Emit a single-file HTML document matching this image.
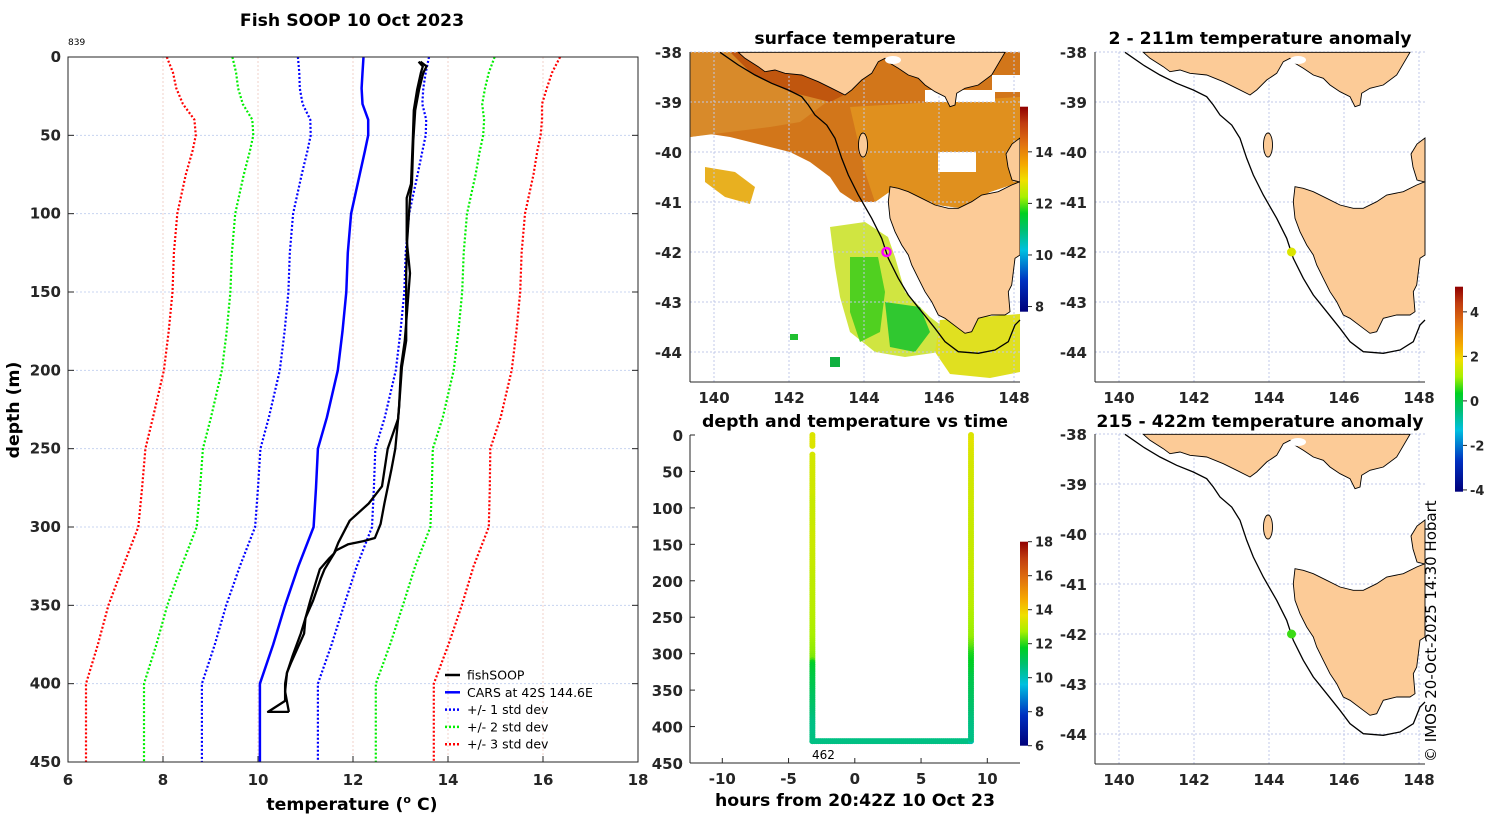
<!DOCTYPE html>
<html><head><meta charset="utf-8"><style>
html,body{margin:0;padding:0;background:#fff;}
svg{display:block;font-family:"DejaVu Sans","Liberation Sans",sans-serif;}
.tk{font-size:15px;font-weight:bold;fill:#262626;}
.ttl{font-size:17.3px;font-weight:bold;fill:#000;}
</style></head><body>
<svg id="fig" width="1500" height="820" viewBox="0 0 1500 820" xmlns="http://www.w3.org/2000/svg">
<text x="352" y="26" text-anchor="middle" class="ttl">Fish SOOP 10 Oct 2023</text>
<text x="68" y="45" font-size="9" fill="#000">839</text>
<text x="855" y="44" text-anchor="middle" class="ttl">surface temperature</text>
<text x="1260" y="44" text-anchor="middle" class="ttl">2 - 211m temperature anomaly</text>
<text x="855" y="427" text-anchor="middle" class="ttl">depth and temperature vs time</text>
<text x="1260" y="427" text-anchor="middle" class="ttl">215 - 422m temperature anomaly</text>
<text transform="translate(1436,762) rotate(-90)" font-size="15" fill="#000">© IMOS 20-Oct-2025 14:30 Hobart</text>
<defs>
<linearGradient id="cm" x1="0" y1="1" x2="0" y2="0">
<stop offset="0" stop-color="#00007a"/><stop offset="0.15" stop-color="#0030c0"/><stop offset="0.3" stop-color="#00c0e0"/><stop offset="0.4" stop-color="#00c070"/><stop offset="0.48" stop-color="#00d020"/><stop offset="0.56" stop-color="#a8f000"/><stop offset="0.64" stop-color="#f0e000"/><stop offset="0.72" stop-color="#f5a800"/><stop offset="0.82" stop-color="#e07010"/><stop offset="0.92" stop-color="#c03c10"/><stop offset="1" stop-color="#900000"/>
</linearGradient>
</defs>
<g id="profile"></g>
<g id="maps"></g>
<g id="timep"></g>
</svg>
<script>
// ---------- profile data ----------
const carsDepth=[0,10,20,30,40,50,60,75,100,125,150,175,200,230,250,275,300,325,350,375,400,425,450];
const carsMean=[12.22,12.2,12.18,12.2,12.32,12.32,12.25,12.14,11.96,11.89,11.86,11.78,11.68,11.45,11.26,11.22,11.17,10.85,10.57,10.32,10.04,10.04,10.04];
const carsStd=[1.38,1.33,1.3,1.26,1.22,1.21,1.21,1.22,1.22,1.22,1.22,1.22,1.22,1.22,1.21,1.22,1.23,1.23,1.24,1.23,1.22,1.22,1.22];
const downDepth=[3,6,10,21,34,53,81,90,117,138,181,198,223,231,250,263,285,298,307,309,311,315,327,333,347,358,368,387,393,405,418];
const downTemp=[13.38,13.47,13.43,13.35,13.28,13.26,13.22,13.13,13.13,13.2,13.09,13.01,12.97,12.95,12.89,12.81,12.66,12.58,12.46,12.22,11.9,11.64,11.4,11.32,11.16,11.0,10.97,10.69,10.61,10.57,10.65];
const upDepth=[418,418,411,400,393,382,368,358,347,333,327,320,317,310,296,285,274,250,231,223,198,181,138,117,90,81,53,34,21,10,6,3];
const upTemp=[10.65,10.21,10.57,10.57,10.61,10.73,10.9,11.0,11.1,11.24,11.3,11.5,11.6,11.69,11.93,12.33,12.61,12.73,12.95,12.97,13.03,13.12,13.12,13.14,13.2,13.24,13.27,13.31,13.39,13.48,13.55,13.42];
const xTicks=[6,8,10,12,14,16,18];
const yTicks=[0,50,100,150,200,250,300,350,400,450];
// ---------- time panel data ----------
const hourDown=-3.2, hourUp=8.77, bottomDepth=420, bottomTemp=10.6;
const timeTicks=[-10,-5,0,5,10];
const timeDepthTicks=[0,50,100,150,200,250,300,350,400,450];
const tempBarTicks=[6,8,10,12,14,16,18];
// ---------- map data ----------
const castLon=144.6, castLat=-42.0;
const anomTop=1.6, anomBottom=0.6;
const lonTicks=[140,142,144,146,148];
const latTicks=[-38,-39,-40,-41,-42,-43,-44];
const sstBarTicks=[8,10,12,14];
const anomBarTicks=[4,2,0,-2,-4];

const NS="http://www.w3.org/2000/svg";
function mk(p,tag,at){const e=document.createElementNS(NS,tag);for(const k in at)e.setAttribute(k,at[k]);p.appendChild(e);return e;}
function cmap(t){
 const s=[[0,0,0,122],[0.15,0,48,192],[0.3,0,192,224],[0.4,0,192,112],[0.48,0,208,32],[0.56,168,240,0],[0.64,240,224,0],[0.72,245,168,0],[0.82,224,112,16],[0.92,192,60,16],[1,144,0,0]];
 if(!isFinite(t))t=0.5;
 t=Math.max(0,Math.min(1,t));
 for(let i=1;i<s.length;i++){if(t<=s[i][0]){const a=s[i-1],b=s[i],f=(t-a[0])/(b[0]-a[0]);return `rgb(${Math.round(a[1]+f*(b[1]-a[1]))},${Math.round(a[2]+f*(b[2]-a[2]))},${Math.round(a[3]+f*(b[3]-a[3]))})`;}}
 return "rgb(144,0,0)";
}
function interp(ds,ts,d){
 // ds may be ascending or descending
 let pairs=ds.map((x,i)=>[x,ts[i]]).sort((a,b)=>a[0]-b[0]);
 if(d<=pairs[0][0])return pairs[0][1];
 for(let i=1;i<pairs.length;i++){if(d<=pairs[i][0]){const a=pairs[i-1],b=pairs[i];if(b[0]===a[0])return b[1];return a[1]+(b[1]-a[1])*(d-a[0])/(b[0]-a[0]);}}
 return pairs[pairs.length-1][1];
}

// ================= PROFILE =================
const P=document.getElementById('profile');
const px=t=>68+(t-6)*570/12, py=d=>57+d*705/450;
const frame=mk(P,'rect',{x:68,y:57,width:570,height:705,fill:'#fff',stroke:'none'});


xTicks.forEach(t=>{
 if(t>6&&t<18){const g=mk(P,'line',{x1:px(t),x2:px(t),y1:57,y2:762,stroke:'#f0d0c8','stroke-width':1,'stroke-dasharray':'2,2'});
 }
 const l=mk(P,'text',{x:px(t),y:785,'text-anchor':'middle',class:'tk'});l.textContent=t;
 
 
 mk(P,'line',{x1:px(t),x2:px(t),y1:762,y2:756,stroke:'#262626'});
});
yTicks.forEach(d=>{
 if(d>0&&d<450){const g=mk(P,'line',{x1:68,x2:638,y1:py(d),y2:py(d),stroke:'#c8d4f0','stroke-width':1,'stroke-dasharray':'2,2'});
 }
 const l=mk(P,'text',{x:61,y:py(d)+5,'text-anchor':'end',class:'tk'});l.textContent=d;
 
 
 mk(P,'line',{x1:68,x2:74,y1:py(d),y2:py(d),stroke:'#262626'});
 mk(P,'line',{x1:638,x2:632,y1:py(d),y2:py(d),stroke:'#262626'});
});
function poly(ds,ts,color,w,dash,name){
 const pts=ds.map((d,i)=>px(ts[i]).toFixed(1)+','+py(d).toFixed(1)).join(' ');
 const e=mk(P,'polyline',{points:pts,fill:'none',stroke:color,'stroke-width':w,'stroke-linejoin':'round'});
 if(dash)e.setAttribute('stroke-dasharray',dash);
 
 
}
[[3,'#ff0000','red'],[2,'#00ee00','green'],[1,'#0000ff','blue']].forEach(([k,c,n])=>{
 poly(carsDepth,carsMean.map((m,i)=>m-k*carsStd[i]),c,2.2,'2,2','cars-minus-'+k+'-std');
 poly(carsDepth,carsMean.map((m,i)=>m+k*carsStd[i]),c,2.2,'2,2','cars-plus-'+k+'-std');
});
poly(carsDepth,carsMean,'#0000ff',2.5,null,'cars-mean-line');
poly(downDepth,downTemp,'#000',2.3,null,'fishsoop-down-cast');
poly(upDepth,upTemp,'#000',2.3,null,'fishsoop-up-cast');
const box=mk(P,'rect',{x:68,y:57,width:570,height:705,fill:'none',stroke:'#262626','stroke-width':1});


const xl=mk(P,'text',{x:352,y:810,'text-anchor':'middle',class:'ttl'});
xl.innerHTML='temperature (<tspan font-size="11" dy="-7">o</tspan><tspan dy="7"> C)</tspan>';


const yl=mk(P,'text',{transform:'translate(19,410) rotate(-90)','text-anchor':'middle',class:'ttl'});yl.textContent='depth (m)';


// legend
const leg=[['fishSOOP','#000',null],['CARS at 42S 144.6E','#0000ff',null],['+/- 1 std dev','#0000ff','2,2'],['+/- 2 std dev','#00ee00','2,2'],['+/- 3 std dev','#ff0000','2,2']];
leg.forEach((L,i)=>{
 const y=675+i*17.3;
 const g=mk(P,'g',{});
 
 
 const ln=mk(g,'line',{x1:445,x2:460,y1:y,y2:y,stroke:L[1],'stroke-width':2.5});
 if(L[2])ln.setAttribute('stroke-dasharray',L[2]);
 const t=mk(g,'text',{x:467,y:y+4.5,'font-size':12.5,fill:'#000'});t.textContent=L[0];
});

// ================= MAPS =================
const M=document.getElementById('maps');
const mainland="M48.3,0.3 L55,6.3 68.3,14.7 75,19.7 85,18 95,21.3 111.7,23 128.3,29.7 141.7,36.3 155,43 161.7,38 171.7,28 181.7,21.3 188.3,9.7 195,6.3 200,11.3 208.3,16.3 218.3,23 228.3,26.3 235,33 245,39.7 255,44.7 260,54.7 265,53 266.7,41.3 275,36.3 288.3,33 301.7,23 315,0.3 Z";
const tas="M200,134.7 L208.3,136.3 218.3,139.7 231.7,146.3 245,153 258.3,156.3 268.3,156.3 281.7,149.7 291.7,143 308.3,139.7 321.7,133 330,129.7 330,203 325,206.3 321.7,233 318.3,239.7 320,259.7 315,263 301.7,263 288.3,266.3 281.7,279.7 275,281.3 268.3,276.3 255,266.3 248.3,263 241.7,249.7 235,239.7 228.3,226.3 221.7,213 218.3,203 211.7,193 205,179.7 200,166.3 198.3,149.7 Z";
const flinders="M330,86 L322,92 316,102 318,115 322,128 330,130 Z";
const shelf="M30,0.3 L48.3,13 65,23 81.7,31.3 98.3,38 111.7,44.7 118.3,53 125,63 136.7,73 145,86.3 151.7,106.3 158.3,123 168.3,143 181.7,166.3 191.7,186.3 198.3,206.3 208.3,226.3 218.3,243 231.7,259.7 245,276.3 255,289.7 268.3,299.7 288.3,301.3 305,298 318.3,289.7 325,273 330,268";
function lonX(l){return 24+(l-140)*37.5;}
function latY(l){return (-38-l)*50;}
function drawMap(ox,oy,name,kind){
 const g=mk(M,'g',{transform:`translate(${ox},${oy})`});
 
 
 mk(g,'rect',{x:0,y:0,width:330,height:330,fill:'#fff'});
 if(kind==='sst'){
  const s=mk(g,'g',{});
  
  
  mk(s,'path',{d:"M0,0 L330,0 330,130 300,140 270,156 240,152 205,136 185,150 165,150 150,140 140,125 120,110 100,100 80,95 60,90 40,85 20,82 0,85 Z",fill:'#d2761a'});
  mk(s,'path',{d:"M0,0 L160,0 150,40 130,55 110,70 80,75 40,80 0,85 Z",fill:'#d88a2a'});
  mk(s,'path',{d:"M40,0 L150,0 160,40 140,50 100,40 60,20 Z",fill:'#c0560e'});
  mk(s,'path',{d:"M160,55 L330,45 330,130 300,140 270,156 240,152 205,136 185,150 175,120 Z",fill:'#e0901e'});
  mk(s,'rect',{x:235,y:38,width:70,height:12,fill:'#fff'});
  mk(s,'rect',{x:248,y:100,width:38,height:20,fill:'#fff'});
  mk(s,'rect',{x:302,y:23,width:28,height:17,fill:'#fff'});
  mk(s,'path',{d:"M15,115 L45,120 65,135 60,152 35,145 15,130 Z",fill:'#e8b020'});
  mk(s,'path',{d:"M140,175 L175,170 198,185 205,205 215,240 240,265 260,280 250,300 215,305 185,300 160,280 150,245 145,215 Z",fill:'#c8e020',opacity:0.85});
  mk(s,'path',{d:"M160,205 L188,205 195,240 190,280 170,290 160,260 Z",fill:'#50d020'});
  mk(s,'path',{d:"M195,250 L230,255 240,280 225,300 200,295 Z",fill:'#30c830'});
  mk(s,'path',{d:"M250,268 L330,262 330,320 300,326 260,322 245,300 Z",fill:'#e0e020'});
  mk(s,'rect',{x:140,y:305,width:10,height:10,fill:'#10b040'});
  mk(s,'rect',{x:100,y:282,width:8,height:6,fill:'#20c030'});
 }
 // grid
 lonTicks.forEach(l=>{const e=mk(g,'line',{x1:lonX(l),x2:lonX(l),y1:0,y2:330,stroke:'#c0c8e8','stroke-dasharray':'2,2'});
  });
 latTicks.forEach(l=>{const e=mk(g,'line',{x1:0,x2:330,y1:latY(l),y2:latY(l),stroke:'#c0c8e8','stroke-dasharray':'2,2'});
  });
 const land=mk(g,'g',{fill:'#fccb97',stroke:'#000','stroke-width':0.9});
 
 
 mk(land,'path',{d:mainland});mk(land,'path',{d:tas});mk(land,'path',{d:flinders});
 mk(land,'ellipse',{cx:173,cy:93,rx:4.5,ry:12});
 mk(g,'ellipse',{cx:203,cy:8,rx:8,ry:4,fill:'#fff'});
 const sh=mk(g,'path',{d:shelf,fill:'none',stroke:'#000','stroke-width':1.3});
 
 
 const cx=lonX(castLon), cy=latY(castLat);
 if(kind==='sst'){
  const c=mk(g,'circle',{cx:cx,cy:cy,r:4,fill:'none',stroke:'#ff00ff','stroke-width':2.5});
  
  
 } else {
  const v=kind==='top'?anomTop:anomBottom;
  const c=mk(g,'circle',{cx:cx,cy:cy,r:4.5,fill:cmap((v+4.08)/9.21)});
  
  
 }
 mk(g,'line',{x1:0,x2:0,y1:0,y2:330,stroke:'#262626'});
 mk(g,'line',{x1:0,x2:330,y1:330,y2:330,stroke:'#262626'});
 latTicks.forEach(l=>{const t=mk(g,'text',{x:-8,y:latY(l)+6,'text-anchor':'end',class:'tk'});t.textContent=l;
  });
 lonTicks.forEach(l=>{const t=mk(g,'text',{x:lonX(l),y:351,'text-anchor':'middle',class:'tk'});t.textContent=l;
  });
}
drawMap(690,52,'sst-map','sst');
drawMap(1095,52,'anomaly-map-top','top');
drawMap(1095,434,'anomaly-map-bottom','bottom');
function colorbar(x,y0,y1,vmin,vmax,ticks,name){
 const r=mk(M,'rect',{x:x,y:y0,width:8,height:y1-y0,fill:'url(#cm)'});
 
 
 ticks.forEach(v=>{const y=y1-(v-vmin)/(vmax-vmin)*(y1-y0);
  mk(M,'line',{x1:x+8,x2:x+12,y1:y,y2:y,stroke:'#262626'});
  const t=mk(M,'text',{x:x+15,y:y+5,'font-size':13,'font-weight':'bold',fill:'#262626'});t.textContent=v;
  });
}
colorbar(1020,106.7,311.7,7.8,15.75,sstBarTicks,'sst-colorbar');
colorbar(1455,286.7,491.7,-4.08,5.13,anomBarTicks,'anomaly-colorbar');

// ================= TIME PANEL =================
const T=document.getElementById('timep');
const tx=h=>854.8+h*13.25, ty=d=>435+d*328/450;
const segs=[];
for(let d=0;d<=bottomDepth;d+=3){ if(d>=18&&d<=24)continue; segs.push([hourDown,d,interp(downDepth,downTemp,d)]); }
for(let h=hourDown;h<=hourUp;h+=0.15) segs.push([h,bottomDepth,bottomTemp]);
for(let d=bottomDepth;d>=0;d-=3) segs.push([hourUp,d,interp(upDepth,upTemp,d)]);
const dots=mk(T,'g',{});


segs.forEach(s=>{mk(dots,'circle',{cx:tx(s[0]),cy:ty(s[1]),r:3,fill:cmap((s[2]-6)/12)});});
mk(T,'line',{x1:690,x2:690,y1:435,y2:763,stroke:'#262626'});
mk(T,'line',{x1:690,x2:1020,y1:763,y2:763,stroke:'#262626'});
timeTicks.forEach(h=>{mk(T,'line',{x1:tx(h),x2:tx(h),y1:763,y2:758,stroke:'#262626'});
 const t=mk(T,'text',{x:tx(h),y:784,'text-anchor':'middle',class:'tk'});t.textContent=h;
 });
timeDepthTicks.forEach(d=>{mk(T,'line',{x1:690,x2:695,y1:ty(d),y2:ty(d),stroke:'#262626'});
 const t=mk(T,'text',{x:683,y:ty(d)+6,'text-anchor':'end',class:'tk'});t.textContent=d;
 });
const n=mk(T,'text',{x:812,y:759,'font-size':12,fill:'#000'});n.textContent='462';


const tl=mk(T,'text',{x:855,y:806,'text-anchor':'middle',class:'ttl'});tl.textContent='hours from 20:42Z 10 Oct 23';


colorbar(1020,541.7,745.7,6,18,tempBarTicks,'time-temp-colorbar');
</script>
</body></html>
